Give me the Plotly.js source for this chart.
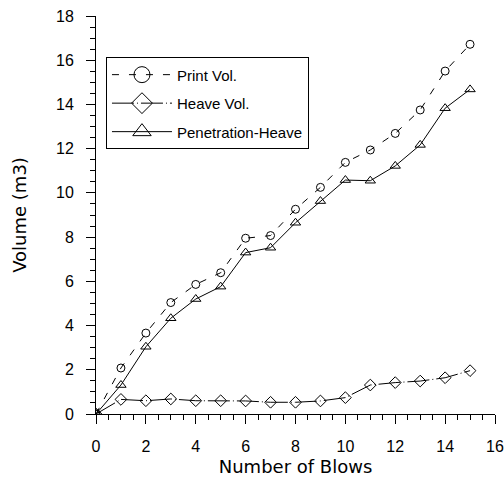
<!DOCTYPE html>
<html>
<head>
<meta charset="utf-8">
<script src="https://cdn.plot.ly/plotly-3.0.1.min.js"></script>
<style>html,body{margin:0;padding:0;background:#fff;}#chart{width:504px;height:481px;}</style>
</head>
<body>
<div id="chart"></div>
<script>
const blows = [0,1,2,3,4,5,6,7,8,9,10,11,12,13,14,15];
const printVol = [0,2.08,3.66,5.04,5.86,6.39,7.95,8.07,9.26,10.25,11.38,11.94,12.69,13.75,15.51,16.72];
const heaveVol = [0,0.66,0.6,0.68,0.6,0.6,0.59,0.53,0.53,0.59,0.74,1.31,1.42,1.49,1.64,1.96];
const penHeave = [0,1.31,3.04,4.33,5.2,5.76,7.3,7.52,8.65,9.63,10.58,10.55,11.22,12.17,13.83,14.68];
const seriesNames = ["Print Vol.","Heave Vol.","Penetration-Heave"];

const styles = [
  {line:{color:"#000", width:1, dash:"7px,10px"}, symbol:"circle-open", size:8, lsize:16},
  {line:{color:"#000", width:1, dash:"22px,3px,1px,3px"}, symbol:"diamond-open", size:9, lsize:16},
  {line:{color:"#000", width:1}, symbol:"triangle-up-open", size:9, lsize:16}
];
const dataY = [printVol, heaveVol, penHeave];

const traces = [];
dataY.forEach((ys, i) => {
  traces.push({x: blows, y: ys, name: seriesNames[i], showlegend:false, mode:"lines+markers",
    line: styles[i].line,
    marker:{symbol:styles[i].symbol, size:styles[i].size, color:"#000", line:{width:1, color:"#000"}}});
});
dataY.forEach((ys, i) => {
  traces.push({x:[null], y:[null], name: seriesNames[i], legendgroup:"g"+i, showlegend:true, mode:"lines+markers",
    line: styles[i].line,
    marker:{symbol:styles[i].symbol, size:styles[i].lsize, color:"#000", line:{width:1, color:"#000"}}});
});

const layout = {
  width:504, height:481,
  margin:{l:96, r:9, t:16, b:67},
  paper_bgcolor:"#fff", plot_bgcolor:"#fff",
  font:{family:"Liberation Sans, Arial, sans-serif", color:"#000"},
  showlegend:true,
  legend:{x:0.025, y:0.896, xanchor:"left", yanchor:"top",
    bordercolor:"#000", borderwidth:1, bgcolor:"#fff",
    font:{size:15, color:"#000"}, itemwidth:60,
    traceorder:"grouped", tracegroupgap:6},
  xaxis:{range:[0,16], tick0:0, dtick:2, ticks:"outside", ticklen:9, tickwidth:1, tickcolor:"#000",
    showline:true, linecolor:"#000", linewidth:1, showgrid:false, zeroline:false,
    ticklabelstandoff:9,
    tickfont:{size:16}, title:{text:"Number of Blows", font:{size:18, family:"DejaVu Sans"}, standoff:6},
    minor:{dtick:0.5, ticks:"outside", ticklen:5, tickcolor:"#000", tickwidth:1, showgrid:false}},
  yaxis:{range:[0,18], tick0:0, dtick:2, ticks:"outside", ticklen:9, tickwidth:1, tickcolor:"#000",
    showline:true, linecolor:"#000", linewidth:1, showgrid:false, zeroline:false,
    ticklabelstandoff:9,
    tickfont:{size:16}, title:{text:"Volume (m3)", font:{size:18, family:"DejaVu Sans"}, standoff:24},
    minor:{dtick:0.5, ticks:"outside", ticklen:5, tickcolor:"#000", tickwidth:1, showgrid:false}}
};
Plotly.newPlot("chart", traces, layout, {displayModeBar:false, staticPlot:true});
</script>
</body>
</html>
